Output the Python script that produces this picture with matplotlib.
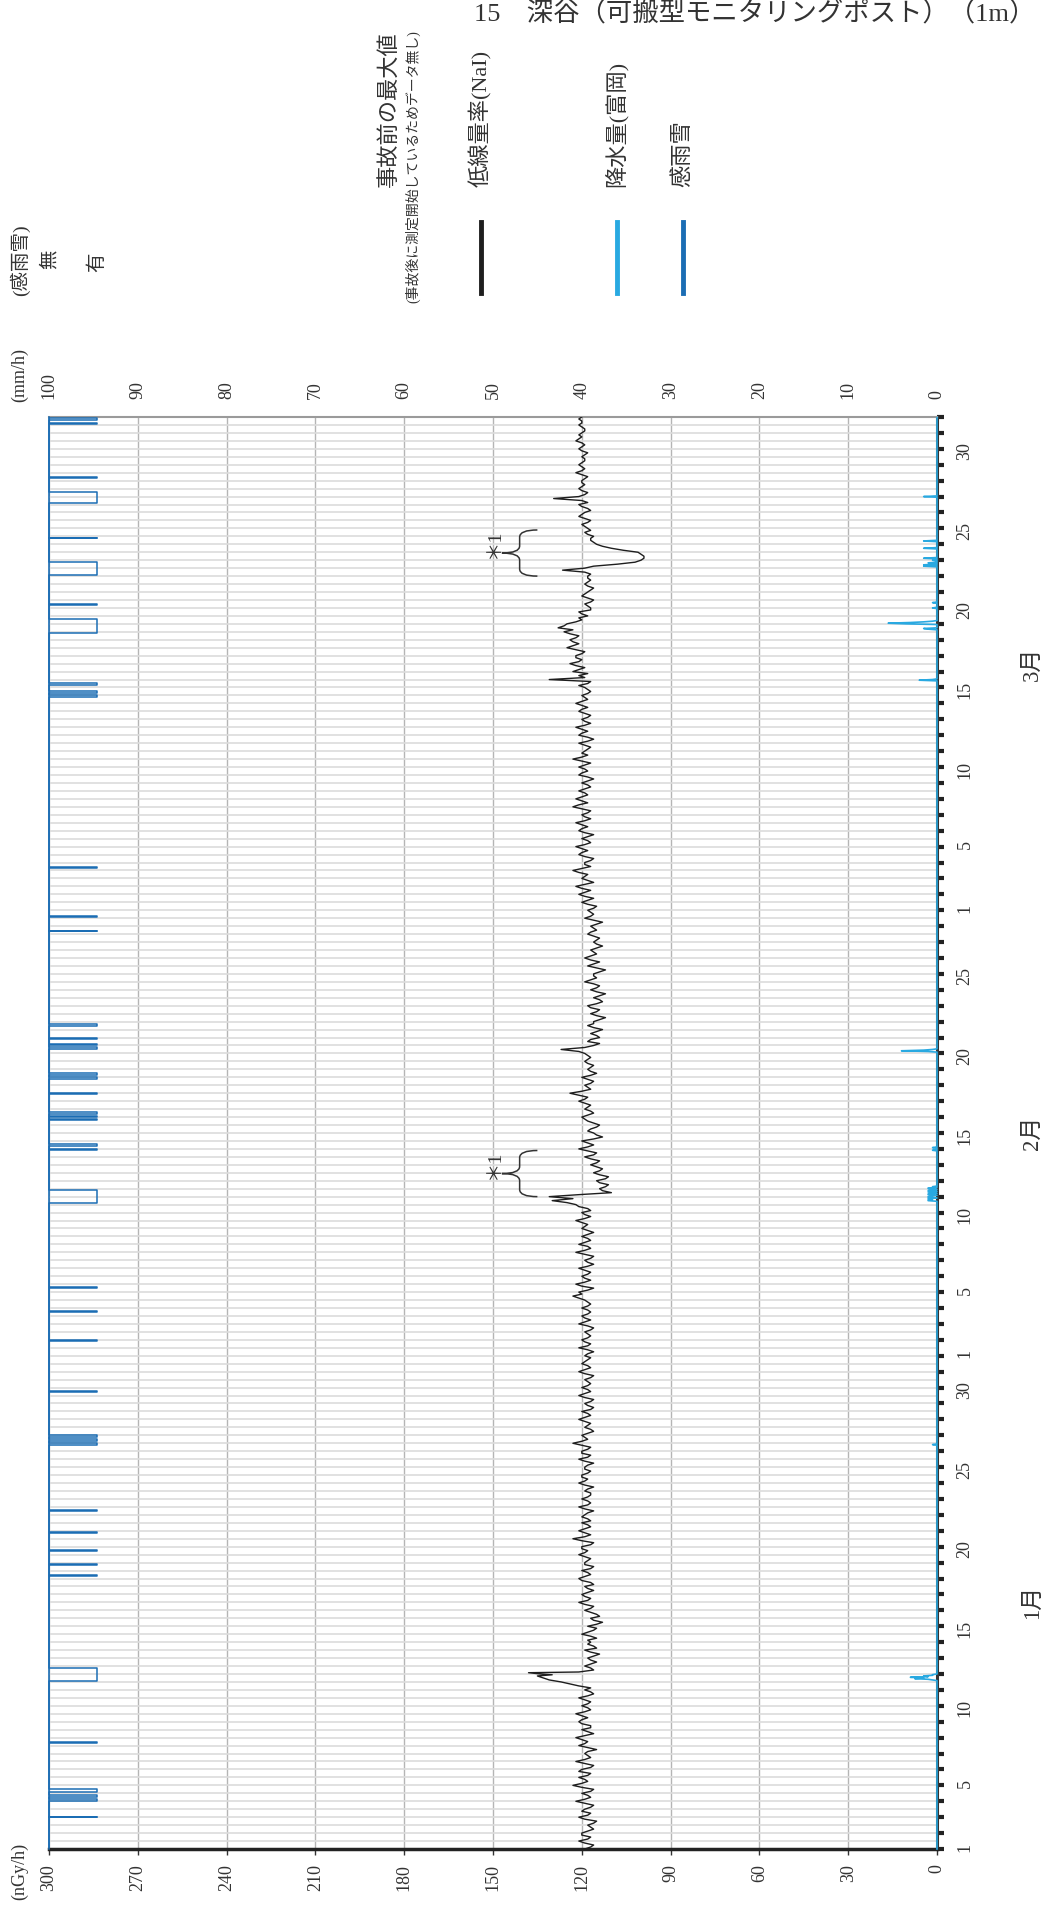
import numpy as np
import matplotlib.pyplot as plt
from matplotlib.lines import Line2D
from matplotlib.path import Path
from matplotlib.patches import PathPatch
from matplotlib.ticker import MultipleLocator

plt.rcParams['font.family'] = ['Liberation Serif', 'Noto Sans CJK JP']

# dose rate (nGy/h), readings at 00, 06, 12, 18 h of each day from Jan 1
dose_6h = [
    119, 116, 121, 117,  120, 116, 118, 115,  121, 117, 119, 116,  122, 117, 120, 116,
    123, 118, 121, 117,  120, 116, 122, 117,  119, 115, 121, 118,  122, 116, 120, 117,
    121, 118, 122, 117,  120, 117, 121, 116,  119, 121, 127, 133,  134, 116, 119, 115,
    118, 114, 119, 116,  117, 115, 120, 116,  118, 113, 117, 115,  119, 116, 121, 117,
    120, 116, 119, 117,  121, 117, 120, 116,  119, 117, 121, 118,  120, 116, 123, 117,
    121, 117, 120, 118,  119, 116, 121, 117,  120, 117, 119, 116,  121, 118, 120, 117,
    119, 116, 121, 117,  120, 117, 123, 118,  120, 116, 119, 117,  121, 117, 120, 116,
    119, 116, 121, 117,  120, 117, 119, 116,  121, 117, 120, 118,
    119, 116, 121, 117,  120, 117, 119, 116,  121, 117, 120, 117,  120, 117, 119, 123,
    121, 116, 122, 117,  120, 117, 121, 116,  119, 116, 122, 117,  121, 117, 120, 116,
    120, 118, 122, 117,  120, 118, 122, 130,  131, 110, 114, 111,  115, 111, 116, 113,
    117, 114, 119, 115,  121, 116, 120, 113,  116, 117, 114, 118,  120, 116, 119, 117,
    121, 118, 124, 117,  119, 116, 120, 115,  118, 116, 119, 117,  119, 127, 116, 118,
    114, 117, 113, 118,  116, 112, 117, 114,  118, 113, 116, 112,  117, 114, 119, 115,
    116, 112, 118, 114,  119, 115, 117, 113,  116, 114, 118, 115,  117, 113, 119, 116,
    118, 115, 120, 116,  121, 117, 122, 116,  120, 118, 123, 117,  119, 116, 121, 118,
    122, 117, 120, 116,  121, 118, 122, 117,  120, 117, 123, 118,  122, 118, 121, 117,
    120, 116, 121, 118,  121, 117, 123, 118,  119, 117, 121, 116,  121, 118, 122, 117,
    120, 117, 121, 118,  122, 118, 120, 117,  119, 118, 131, 121,  123, 119, 124, 120,
    122, 119, 125, 121,  124, 121, 126, 128,  125, 120, 118, 121,  117, 119, 116, 120,
    118, 116, 119, 117,  118, 119, 119, 108,  100, 99, 101, 110,  115, 117, 116, 119,
    118, 120, 117, 121,  119, 118, 121, 120,  121, 118, 121, 119,  120, 118, 122, 119,
    121, 119, 120, 118,  121, 119, 122, 120,  120, 119, 121, 120,
    120,
]
# readings at 03, 09, 15, 21 h of each day
dose_3h = [
    117, 119, 118, 120,  118, 117, 116, 119,  118, 120, 117, 119,  119, 118, 117, 120,
    120, 119, 118, 121,  117, 119, 119, 118,  118, 118, 119, 120,  119, 118, 117, 120,
    120, 120, 119, 118,  118, 119, 118, 117,  117, 124, 131, 135,  121, 117, 117, 117,
    116, 117, 115, 118,  118, 117, 118, 115,  115, 116, 114, 117,  117, 119, 118, 119,
    118, 118, 116, 120,  119, 118, 117, 119,  118, 119, 119, 120,  117, 120, 119, 119,
    119, 118, 117, 120,  118, 119, 118, 118,  118, 117, 118, 119,  119, 120, 118, 119,
    118, 119, 118, 120,  118, 120, 120, 119,  118, 117, 118, 119,  119, 118, 117, 118,
    117, 119, 119, 118,  118, 118, 117, 119,  119, 118, 119, 117,
    118, 118, 118, 119,  118, 118, 117, 118,  119, 119, 118, 118,  118, 118, 121, 120,
    118, 120, 119, 119,  118, 119, 118, 118,  117, 119, 119, 118,  119, 118, 118, 118,
    119, 120, 119, 119,  117, 121, 125, 123,  121, 113, 112, 114,  112, 114, 114, 115,
    115, 117, 116, 118,  118, 118, 116, 115,  118, 115, 116, 119,  118, 117, 118, 119,
    119, 121, 120, 118,  117, 118, 117, 117,  117, 118, 118, 118,  121, 119, 114, 117,
    115, 115, 116, 116,  114, 115, 115, 117,  115, 114, 114, 115,  115, 116, 117, 116,
    114, 115, 116, 117,  117, 116, 115, 115,  115, 116, 117, 116,  115, 116, 117, 117,
    116, 118, 118, 119,  119, 120, 119, 118,  119, 121, 120, 119,  117, 119, 120, 120,
    119, 118, 118, 119,  120, 120, 119, 119,  118, 120, 121, 120,  120, 119, 119, 118,
    118, 118, 120, 119,  119, 120, 120, 120,  118, 119, 118, 118,  120, 120, 119, 119,
    118, 119, 120, 120,  120, 119, 118, 118,  121, 117, 119, 118,  121, 122, 121, 122,
    120, 122, 123, 123,  122, 124, 123, 126,  122, 121, 120, 117,  118, 117, 118, 119,
    117, 118, 118, 118,  117, 126.5, 116, 102,  99, 100, 106, 113,  116, 117, 118, 117,
    119, 118, 119, 120,  117, 120, 118, 129.5,  119, 120, 120, 120,  119, 120, 120, 120,
    120, 119, 119, 120,  120, 120, 121, 121,  119, 120, 120, 121,
]
# short peaks between readings (day, nGy/h)
peak_day = [10.95, 11.08]
peak_val = [130, 138]

# rainfall at Tomioka (mm/h), hour index from Jan 1 00:00
rain_hour = [255, 256, 257, 258, 259, 260, 261, 262, 263, 610,
             978, 979, 980, 981, 983, 984, 985, 987, 988, 990, 991, 993, 994, 996, 997, 999,
             1054, 1058, 1203, 1204, 1205, 1206, 1763, 1764,
             1840, 1841, 1848, 1849, 1850, 1851, 1852, 1872, 1880,
             1935, 1937, 1940, 1944, 1947, 1962, 1973, 2040]
rain_mm = [0.5, 1.0, 2.5, 1.5, 3.0, 1.0, 1.5, 0.5, 0.5, 0.5,
           1.0, 1.0, 0.5, 1.0, 1.0, 1.0, 0.5, 1.0, 1.0, 0.5, 1.0, 1.0, 0.5, 1.0, 1.0, 0.5,
           0.5, 0.5, 1.0, 4.0, 1.5, 0.5, 2.0, 0.5,
           1.0, 1.5, 3.5, 5.5, 3.0, 1.5, 0.5, 0.5, 0.5,
           1.5, 1.5, 1.0, 0.5, 1.5, 1.5, 1.5, 1.5]

# rain/snow sensing periods (hour from Jan 1 00:00)
sense_start = [48, 73, 79, 86, 160, 254, 412, 429, 450, 477, 510, 610, 616, 622, 690, 767, 810,
               846, 974, 1054, 1061, 1099, 1104, 1109, 1139, 1162, 1168, 1207, 1213, 1222,
               1242, 1384, 1406, 1480, 1738, 1744, 1756, 1834, 1876, 1922, 1977, 2030,
               2068, 2150, 2156]
sense_end = [49, 76, 82, 90, 161, 273, 413, 430, 451, 478, 511, 612, 618, 624, 691, 768, 811,
             847, 994, 1056, 1063, 1101, 1106, 1111, 1141, 1164, 1171, 1209, 1215, 1224,
             1244, 1385, 1407, 1481, 1740, 1746, 1759, 1855, 1878, 1942, 1978, 2047,
             2069, 2151, 2158]

months = ['1月', '2月', '3月']
month_days = [31, 28, 31]
day_labels = [[1, 5, 10, 15, 20, 25, 30], [1, 5, 10, 15, 20, 25], [1, 5, 10, 15, 20, 25, 30]]
dose_ticks = list(range(0, 301, 30))
rain_ticks = list(range(0, 101, 10))

W, H = 1047, 1917
fig = plt.figure(figsize=(W / 100, H / 100), dpi=100)
ax = fig.add_axes([49 / W, 1 - 1849 / H, 888 / W, 1432 / H])
total_days = sum(month_days)

# dose rate line
t_all = np.concatenate([np.arange(len(dose_6h)) * 0.25,
                        np.arange(len(dose_3h)) * 0.25 + 0.125, peak_day])
v_all = np.concatenate([dose_6h, dose_3h, peak_val])
order = np.argsort(t_all, kind='stable')
ax.plot(v_all[order], t_all[order], color='#1e1e1e', lw=1.0, zorder=3)

ax.set_xlim(300, 0)
ax.set_ylim(0, total_days)
ax.set_xticks(dose_ticks)
ax.tick_params(axis='x', length=4, width=1, color='#333', pad=7, labelsize=13,
               labelrotation=90, labelcolor='#333')

# day ticks on the right side
starts = np.cumsum([0] + month_days[:-1])
ax.set_yticks(np.arange(0, total_days + 1))
labels = [''] * (total_days + 1)
for s, days in zip(starts, day_labels):
    for d in days:
        labels[s + d - 1] = str(d)
ax.set_yticklabels(labels)
ax.yaxis.tick_right()
ax.yaxis.set_minor_locator(MultipleLocator(0.5))
ax.tick_params(axis='y', which='major', length=5, width=3, color='#222', pad=9,
               labelsize=13, labelrotation=90, labelcolor='#333')
ax.tick_params(axis='y', which='minor', length=0)
ax.grid(axis='y', which='both', color='#dcdcdc', lw=1.2)
ax.grid(axis='x', which='major', color='#b5b5b5', lw=1.0)
ax.set_axisbelow(True)

for s, n, m in zip(starts, month_days, months):
    ax.text(1.107, s + n / 2, m, transform=ax.get_yaxis_transform(), rotation=90,
            ha='center', va='center', fontsize=16.5, color='#333')

ax.spines['bottom'].set_color('#222')
ax.spines['bottom'].set_linewidth(2.5)
ax.spines['right'].set_color('#333')
ax.spines['right'].set_linewidth(2.2)
ax.spines['top'].set_color('#9a9a9a')
ax.spines['top'].set_linewidth(1.5)
ax.spines['left'].set_color('#1b6db4')
ax.spines['left'].set_linewidth(1.2)


# curly brackets with *1 note
def brace(y0, y1, x_end=135, x_sp=141, x_tip=147, r=0.45):
    ym = (y0 + y1) / 2
    verts = [(x_end, y0), (x_sp, y0), (x_sp, y0 + r), (x_sp, ym - r),
             (x_sp, ym), (x_tip, ym), (x_sp, ym), (x_sp, ym + r),
             (x_sp, y1 - r), (x_sp, y1), (x_end, y1)]
    codes = [Path.MOVETO, Path.CURVE3, Path.CURVE3, Path.LINETO,
             Path.CURVE3, Path.CURVE3, Path.CURVE3, Path.CURVE3,
             Path.LINETO, Path.CURVE3, Path.CURVE3]
    ax.add_patch(PathPatch(Path(verts, codes), fill=False, color='#333', lw=1.1, zorder=3))
    ax.text(149.5, ym + 0.6, '＊1', rotation=90, ha='center', va='center',
            fontsize=14, color='#333')


brace(41.0, 43.9)
brace(80.0, 82.9)

# rainfall axis (top)
ax2 = ax.twiny()
rain = np.zeros(total_days * 24)
rain[rain_hour] = rain_mm
hours = np.arange(total_days * 24) / 24
ax2.plot(rain, hours, color='#29a9e1', lw=1.2, clip_on=False, zorder=4)
ax2.set_xlim(100, 0)
ax2.set_xticks(rain_ticks)
ax2.tick_params(axis='x', length=0, pad=13, labelsize=13, labelrotation=90, labelcolor='#333')
for sp in ax2.spines.values():
    sp.set_visible(False)

# rain/snow sensing axis
ax3 = ax.twiny()
sx, sy = [0], [0]
for a, b in zip(sense_start, sense_end):
    sx += [0, 1, 1, 0]
    sy += [a / 24, a / 24, b / 24, b / 24]
sx.append(0)
sy.append(total_days)
ax3.plot(sx, sy, color='#1b6db4', lw=1.1, clip_on=False, zorder=4)
ax3.set_xlim(0, 18.5)
ax3.set_xticks([])
for sp in ax3.spines.values():
    sp.set_visible(False)

# axis unit labels
fig.text(20 / W, 1 - 1871 / H, '(nGy/h)', rotation=90, ha='center', va='center',
         fontsize=13, color='#333')
fig.text(20 / W, 1 - 375 / H, '(mm/h)', rotation=90, ha='center', va='center',
         fontsize=13, color='#333')
fig.text(20 / W, 1 - 260 / H, '(感雨雪)', rotation=90, ha='center', va='center',
         fontsize=14, color='#333')
fig.text(50 / W, 1 - 259 / H, '無', rotation=90, ha='center', va='center',
         fontsize=14, color='#333')
fig.text(97 / W, 1 - 262 / H, '有', rotation=90, ha='center', va='center',
         fontsize=14, color='#333')

# legend
fig.text(389 / W, 1 - 187 / H, '事故前の最大値', rotation=90, ha='center', va='bottom',
         fontsize=16, color='#333')
fig.text(413 / W, 1 - 303 / H, '(事故後に測定開始しているためデータ無し)', rotation=90,
         ha='center', va='bottom', fontsize=10, color='#333')
legend_items = [('低線量率(NaI)', '#1e1e1e', 481), ('降水量(富岡)', '#29a9e1', 617),
                ('感雨雪', '#1b6db4', 683)]
for name, col, x in legend_items:
    fig.text(x / W, 1 - 187 / H, name, rotation=90, ha='center', va='bottom',
             fontsize=16, color='#333')
    fig.add_artist(Line2D([x / W, x / W], [1 - 222 / H, 1 - 293 / H],
                          transform=fig.transFigure, color=col, lw=3.5))

fig.text(755 / W, 1 - 14 / H, '15　深谷（可搬型モニタリングポスト）（1m）', ha='center',
         va='center', fontsize=19, color='#333')

fig.savefig('out.png', dpi=100)
